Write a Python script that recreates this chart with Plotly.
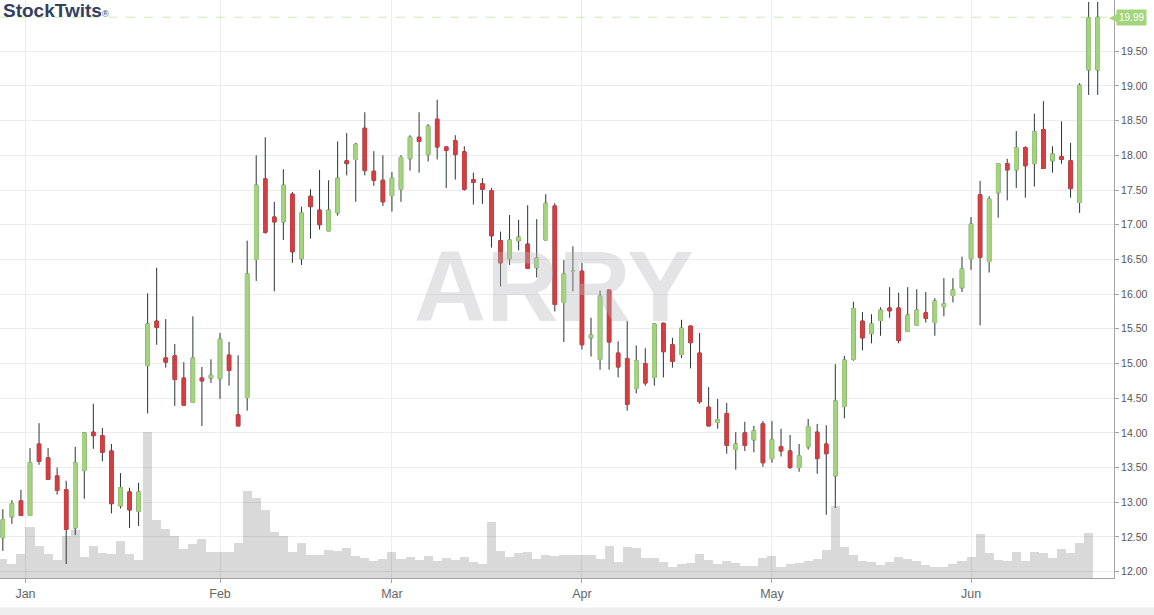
import pandas as pd
import plotly.graph_objects as go

# trading sessions shown on the chart (NYSE calendar, late Dec 2017 -> Jun 21 2018)
holidays = ["2018-01-01", "2018-01-15", "2018-02-19", "2018-03-30", "2018-05-28"]
dates = [
    d.strftime("%Y-%m-%d")
    for d in pd.bdate_range("2017-12-27", "2018-06-21", freq="C", holidays=holidays)
]

open_ = [
    12.49, 12.79, 13.02, 12.81, 13.84, 13.64, 13.38, 13.18, 12.63, 13.46,
    14.01, 13.96, 13.74, 12.95, 13.15, 12.87, 14.97, 15.61, 15.08, 15.11,
    14.79, 14.44, 14.79, 14.79, 14.78, 15.12, 14.26, 14.51, 16.50, 17.66,
    17.11, 17.04, 17.44, 16.51, 17.41, 17.21, 16.91, 17.17, 17.92, 17.94,
    18.39, 17.77, 17.64, 17.42, 17.51, 17.95, 18.26, 18.01, 18.52, 18.12,
    18.21, 18.05, 17.65, 17.59, 17.49, 16.77, 16.51, 16.77, 16.72, 16.38,
    16.78, 17.27, 15.88, 16.33, 16.33, 15.37, 15.06, 16.06, 15.15, 15.07,
    14.64, 15.00, 14.80, 15.58, 15.27, 15.13, 15.54, 15.15, 14.37, 14.15,
    14.28, 13.76, 14.00, 13.90, 14.13, 13.63, 13.80, 13.74, 13.50, 13.80,
    14.01, 13.84, 13.38, 14.38, 15.06, 15.61, 15.43, 15.62, 15.80, 15.80,
    15.46, 15.55, 15.73, 15.59, 15.82, 15.98, 16.09, 16.51, 17.43, 16.47,
    17.46, 17.88, 17.79, 18.11, 17.88, 18.37, 17.92, 17.98, 17.92, 17.32,
    19.23, 19.23,
]
high = [
    12.90, 13.03, 13.18, 13.78, 14.14, 13.78, 13.50, 13.31, 13.80, 14.01,
    14.42, 14.07, 13.84, 13.42, 13.21, 13.28, 16.01, 16.38, 15.64, 15.28,
    15.02, 15.68, 14.95, 15.06, 15.44, 15.31, 15.12, 16.77, 18.00, 18.26,
    17.33, 17.80, 17.47, 17.26, 17.51, 17.79, 17.64, 18.20, 18.32, 18.18,
    18.62, 18.06, 18.00, 17.76, 18.00, 18.29, 18.62, 18.45, 18.80, 18.13,
    18.29, 18.13, 17.75, 17.67, 17.53, 16.90, 17.14, 17.07, 17.28, 17.08,
    17.44, 17.31, 16.49, 16.69, 16.45, 15.66, 16.05, 16.06, 15.32, 15.61,
    15.26, 15.22, 15.58, 15.59, 15.37, 15.63, 15.54, 15.44, 14.66, 14.49,
    14.43, 14.01, 14.16, 14.10, 14.17, 14.17, 14.06, 13.97, 13.84, 14.20,
    14.13, 14.11, 14.99, 15.11, 15.89, 15.74, 15.71, 15.81, 16.10, 16.02,
    16.10, 16.07, 16.03, 15.94, 16.23, 16.23, 16.54, 17.11, 17.63, 17.41,
    17.88, 17.95, 18.35, 18.13, 18.60, 18.78, 18.13, 18.49, 18.18, 19.04,
    20.21, 20.21,
]
low = [
    12.30, 12.69, 12.80, 12.80, 13.54, 13.32, 13.11, 12.11, 12.53, 13.05,
    13.77, 13.59, 12.84, 12.91, 12.63, 12.66, 14.28, 15.27, 14.94, 14.39,
    14.40, 14.43, 14.10, 14.72, 14.49, 14.68, 14.10, 14.32, 16.19, 16.87,
    16.04, 16.78, 16.45, 16.42, 16.80, 16.93, 16.91, 17.13, 17.71, 17.33,
    17.71, 17.56, 17.27, 17.19, 17.33, 17.78, 17.75, 17.91, 17.94, 17.53,
    17.65, 17.49, 17.29, 17.30, 16.67, 16.11, 16.42, 16.63, 16.37, 16.24,
    16.78, 15.75, 15.31, 16.04, 15.20, 15.10, 14.91, 14.91, 14.80, 14.32,
    14.57, 14.68, 14.68, 14.80, 14.94, 15.08, 14.93, 14.42, 14.10, 14.06,
    13.70, 13.47, 13.74, 13.72, 13.51, 13.57, 13.66, 13.48, 13.44, 13.76,
    13.41, 12.82, 12.92, 14.21, 15.04, 15.19, 15.29, 15.40, 15.66, 15.29,
    15.46, 15.55, 15.59, 15.40, 15.68, 15.88, 16.03, 16.35, 15.55, 16.31,
    17.10, 17.35, 17.53, 17.39, 17.55, 17.80, 17.75, 17.88, 17.39, 17.17,
    18.87, 18.87,
]
close = [
    12.75, 12.98, 12.81, 13.57, 13.59, 13.33, 13.17, 12.61, 13.57, 14.00,
    13.96, 13.72, 12.98, 13.21, 12.89, 13.15, 15.57, 15.52, 15.02, 14.77,
    14.40, 15.08, 14.75, 14.83, 15.35, 14.90, 14.10, 16.29, 17.57, 16.89,
    17.04, 17.57, 16.61, 17.17, 17.26, 17.00, 17.21, 17.67, 17.88, 18.16,
    17.78, 17.64, 17.33, 17.67, 17.97, 18.26, 18.20, 18.42, 18.12, 18.07,
    18.01, 17.51, 17.61, 17.51, 16.84, 16.45, 16.78, 16.82, 16.37, 16.52,
    17.31, 15.85, 16.29, 16.33, 15.27, 15.41, 15.97, 15.31, 14.95, 14.41,
    15.04, 14.72, 15.57, 15.17, 15.03, 15.51, 15.30, 14.45, 14.10, 14.19,
    13.82, 13.84, 13.82, 14.03, 13.57, 13.90, 13.74, 13.50, 13.67, 14.09,
    13.63, 13.70, 14.46, 15.05, 15.79, 15.37, 15.57, 15.77, 15.76, 15.33,
    15.70, 15.77, 15.65, 15.90, 15.86, 16.06, 16.36, 17.01, 16.53, 17.37,
    17.88, 17.79, 18.11, 17.85, 18.34, 17.81, 18.02, 17.94, 17.52, 19.01,
    19.98, 19.99,
]
# volume, thousands of shares (today's session has no volume bar yet)
volume = [
    1900, 1400, 2400, 5100, 3200, 2400, 1800, 4200, 4800, 2100,
    3200, 2500, 2400, 3700, 2400, 1800, 14600, 5800, 4900, 4200,
    2900, 3400, 3900, 2600, 2600, 2600, 3500, 8700, 8000, 6800,
    4600, 4200, 2600, 3500, 2300, 2300, 2800, 2700, 3000, 2200,
    2000, 1700, 1900, 2600, 1900, 2100, 1800, 2200, 1700, 2000,
    1800, 2100, 1600, 1400, 5600, 2700, 2100, 2500, 2600, 1900,
    2300, 2200, 2300, 2300, 2300, 2300, 1900, 3200, 1600, 3100,
    3000, 2000, 2000, 1600, 1100, 1400, 1500, 2400, 1800, 1400,
    1700, 1500, 1200, 1200, 2000, 2200, 1100, 1400, 1500, 1700,
    1900, 2800, 7200, 3100, 2300, 1700, 1600, 1300, 1600, 2100,
    1900, 1700, 1300, 1100, 1100, 1400, 1700, 2100, 4400, 2500,
    1800, 1700, 2600, 1700, 2600, 2500, 2000, 2900, 2500, 3500,
    4500, 0,
]

month_ticks = ["2018-01-02", "2018-02-01", "2018-03-01", "2018-04-02", "2018-05-01", "2018-06-01"]
month_labels = ["Jan", "Feb", "Mar", "Apr", "May", "Jun"]
price_ticks = [12.0, 12.5, 13.0, 13.5, 14.0, 14.5, 15.0, 15.5, 16.0, 16.5, 17.0, 17.5, 18.0, 18.5, 19.0, 19.5]

symbol = "ARRY"
last_price = close[-1]

GREEN = "#a2d57c"
RED = "#d63d40"
WICK = "#2b3336"

tick_pos = [dates.index(d) for d in month_ticks]
tick_pos[0] -= 0.5  # Jan 1 is a holiday, the tick falls between sessions

body_high = [max(o, c) for o, c in zip(open_, close)]
body_low = [min(o, c) for o, c in zip(open_, close)]

fig = go.Figure()

fig.add_trace(
    go.Bar(
        x=dates,
        y=volume,
        yaxis="y",
        width=1,
        marker=dict(color="rgba(0,0,0,0.15)", line=dict(width=0)),
        hoverinfo="skip",
    )
)
# wicks (dark), bodies drawn on top without wicks
fig.add_trace(
    go.Candlestick(
        x=dates,
        open=open_,
        high=high,
        low=low,
        close=close,
        yaxis="y2",
        increasing=dict(line=dict(color=WICK, width=1), fillcolor=WICK),
        decreasing=dict(line=dict(color=WICK, width=1), fillcolor=WICK),
        whiskerwidth=0,
        hoverinfo="skip",
    )
)
fig.add_trace(
    go.Candlestick(
        x=dates,
        open=open_,
        high=body_high,
        low=body_low,
        close=close,
        yaxis="y2",
        increasing=dict(line=dict(color=GREEN, width=1), fillcolor=GREEN),
        decreasing=dict(line=dict(color=RED, width=1), fillcolor=RED),
        whiskerwidth=0,
    )
)

# price axis: 69.4 px per dollar, plot area 578 px tall
vol_top = max(volume) / (146 / 578)

fig.update_layout(
    width=1154,
    height=615,
    margin=dict(l=0, r=40, t=0, b=37),
    plot_bgcolor="white",
    paper_bgcolor="white",
    showlegend=False,
    bargap=0,
    boxgap=0.45,
    font=dict(family="Liberation Sans"),
    xaxis=dict(
        type="category",
        range=[-0.315, 122.8],
        tickmode="array",
        tickvals=tick_pos,
        ticktext=month_labels,
        showgrid=True,
        gridcolor="#ececec",
        gridwidth=1,
        showline=True,
        linecolor="#a4a4a4",
        ticks="outside",
        ticklen=4,
        tickcolor="#a4a4a4",
        tickfont=dict(size=12.5, color="#666666"),
        zeroline=False,
        rangeslider=dict(visible=False),
        fixedrange=True,
    ),
    yaxis=dict(range=[0, vol_top], visible=False, fixedrange=True),
    yaxis2=dict(
        overlaying="y",
        side="right",
        range=[11.909, 20.238],
        tickmode="array",
        tickvals=price_ticks,
        tickformat=".2f",
        showgrid=True,
        gridcolor="#ececec",
        showline=True,
        linecolor="#a4a4a4",
        ticks="outside",
        ticklen=4,
        tickcolor="#a4a4a4",
        tickfont=dict(size=10.5, color="#555555"),
        zeroline=False,
        fixedrange=True,
    ),
)

# darker line at the start of the year
fig.add_shape(
    type="line", xref="x", yref="paper", x0=tick_pos[0], x1=tick_pos[0], y0=0, y1=1,
    line=dict(color="#c6c6c6", width=1), layer="below",
)
# last price: dashed line + flag on the axis
fig.add_shape(
    type="line", xref="paper", yref="y2", x0=0, x1=1, y0=last_price, y1=last_price,
    line=dict(color="rgba(162,213,124,0.55)", width=1, dash="dash"),
)
fig.add_annotation(
    x=1, xref="paper", y=last_price, yref="y2", xanchor="left", xshift=2,
    text=f"{last_price:.2f}", showarrow=False,
    bgcolor=GREEN, borderpad=2,
    font=dict(size=10, color="white"),
)
fig.add_annotation(
    x=1, xref="paper", y=last_price, yref="y2", xanchor="right", xshift=6,
    text="◀", showarrow=False,
    font=dict(size=11, color=GREEN, family="DejaVu Sans"),
)
# bottom shadow strip
fig.add_shape(
    type="rect", xref="paper", yref="paper", x0=-0.01, x1=1.05, y0=-0.051, y1=-0.07,
    fillcolor="#eeeeee", line=dict(width=0),
)

# watermark
fig.add_annotation(
    x=0.497, y=0.505, xref="paper", yref="paper",
    text=f"<b>{symbol}</b>", showarrow=False,
    font=dict(size=100, color="rgba(185,185,192,0.38)"),
)
# logo
fig.add_annotation(
    x=0, y=1, xref="paper", yref="paper", xanchor="left", yanchor="top",
    xshift=1, yshift=2,
    text="<b>StockTwits</b><span style='font-size:9px'>®</span>", showarrow=False,
    font=dict(size=19, color="#34405f"),
)

# the page's default body margin would offset the chart by 8px
fig.write_html(
    "out.html",
    config={"displayModeBar": False},
    post_script="document.body.style.margin = '0';",
)
